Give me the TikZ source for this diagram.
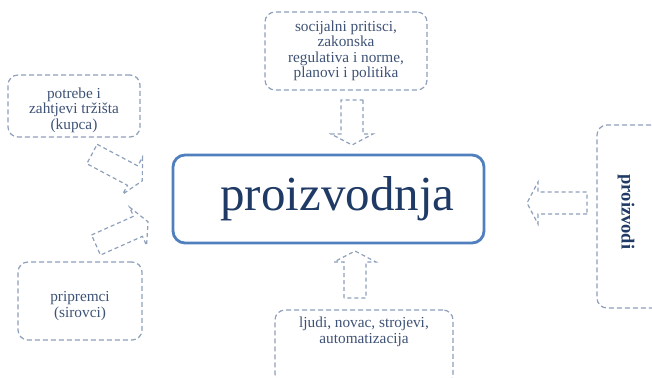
\documentclass[tikz,border=0pt]{standalone}
\usepackage{fontspec}
\setmainfont{Liberation Serif}
\usetikzlibrary{positioning}

\definecolor{boxline}{HTML}{8EA0BA}
\definecolor{mainline}{HTML}{4F7FBD}
\definecolor{maintext}{HTML}{1F3A64}
\definecolor{smalltext}{HTML}{3E5275}

\tikzset{
  dashbox/.style={draw=boxline, line width=1.2pt, dash pattern=on 5pt off 3pt,
    rounded corners=10pt},
  smalltxt/.style={align=center, text=smalltext, font=\fontsize{15.3}{15.5}\selectfont},
  mainbox/.style={draw=mainline, line width=2.8pt, rounded corners=12pt},
  arrowline/.style={draw=boxline, line width=1.2pt, dash pattern=on 4pt off 3pt},
  pics/blockarrow/.style={code={
    \draw[arrowline] (0,-11) -- ({#1-11},-11) -- ({#1-11},-21) -- (#1,0)
      -- ({#1-11},21) -- ({#1-11},11) -- (0,11) -- cycle;}}
}

\begin{document}
\begin{tikzpicture}[x=1pt,y=-1pt]
        \useasboundingbox (0,0) rectangle (652,377);
        % centre
        \node[mainbox, minimum width=311pt, minimum height=88pt] (prod) at (328.5,199) {};
        \node[text=maintext, font=\fontsize{49}{50}\selectfont] (prodlabel)
            at ([xshift=9pt]prod.center) {proizvodnja};
        % inputs
        \node[dashbox, smalltxt, minimum width=162pt, minimum height=78pt] (social) at (346,51)
            {socijalni pritisci,\\ zakonska\\ regulativa i norme,\\ planovi i politika};
        \node[dashbox, minimum width=132pt, minimum height=62pt] (market) at (74,106) {};
        \node[smalltxt] (marketlabel) at (74,110) {potrebe i\\ zahtjevi tržišta\\ (kupca)};
        \node[dashbox, minimum width=124pt, minimum height=78pt] (raw) at (80,301) {};
        \node[smalltxt] (rawlabel) at (80,306) {pripremci\\ (sirovci)};
        \node[dashbox, minimum width=178pt, minimum height=74pt] (res) at (364,347) {};
        \node[smalltxt, below=4pt of res.north] (reslabel) {ljudi, novac, strojevi,\\ automatizacija};
        % output
        \node[dashbox, minimum width=80pt, minimum height=183pt] (out) at (637,216.5) {};
        \node[rotate=-90, text=maintext, font=\bfseries\fontsize{18.5}{20}\selectfont] (outlabel)
            at (626,212) {proizvodi};
        % block arrows
        \pic (arrsocial) at (352,100) [rotate=-90] {blockarrow=45};
        \pic (arrres) at (355,298) [rotate=90] {blockarrow=47};
        \pic (arrout) at (587,203) [rotate=180] {blockarrow=60};
        \pic (arrmarket) at (92,154) [rotate=-28] {blockarrow=57};
        \pic (arrraw) at (96,245) [rotate=24] {blockarrow=57};
\end{tikzpicture}
\end{document}
